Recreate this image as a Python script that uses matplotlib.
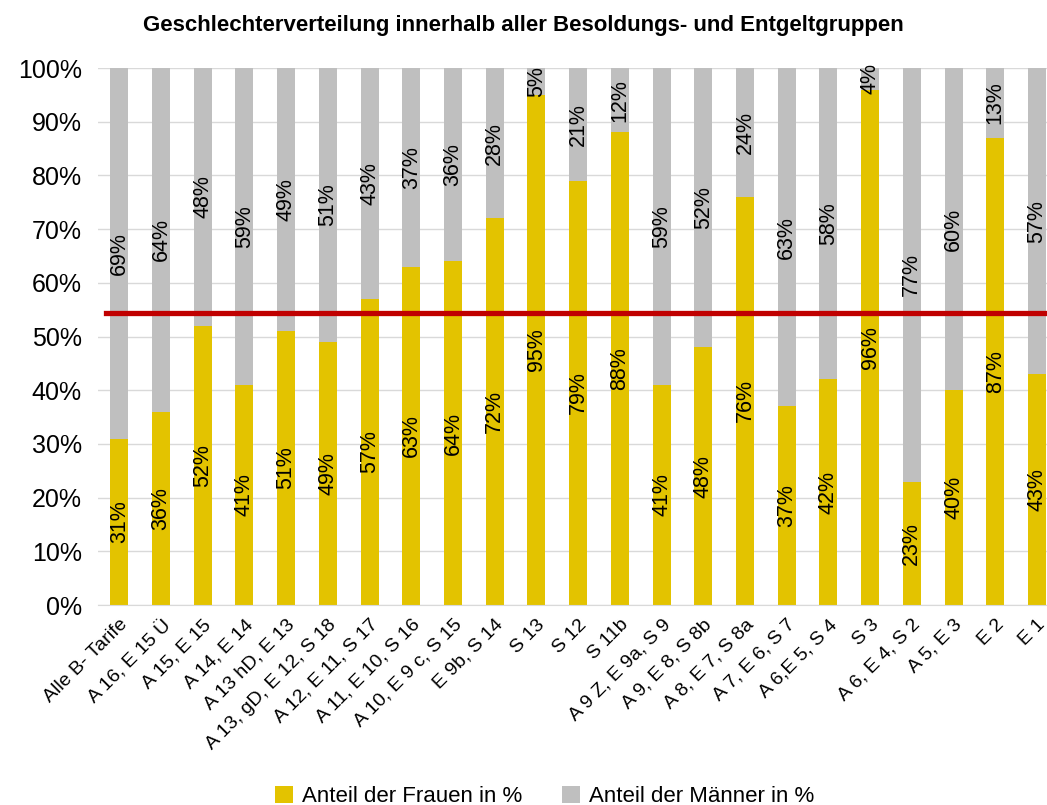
import numpy as np
import matplotlib
matplotlib.use("Agg")
import matplotlib.pyplot as plt

plt.rcParams['font.family'] = ['Liberation Sans', 'DejaVu Sans']

categories = ["Alle B- Tarife", "A 16, E 15 Ü", "A 15, E 15", "A 14, E 14", "A 13 hD, E 13",
              "A 13, gD, E 12, S 18", "A 12, E 11, S 17", "A 11, E 10, S 16", "A 10, E 9 c, S 15",
              "E 9b, S 14", "S 13", "S 12", "S 11b", "A 9 Z, E 9a, S 9", "A 9, E 8, S 8b",
              "A 8, E 7, S 8a", "A 7, E 6, S 7", "A 6,E 5, S 4", "S 3", "A 6, E 4, S 2",
              "A 5, E 3", "E 2", "E 1"]
frauen = [31, 36, 52, 41, 51, 49, 57, 63, 64, 72, 95, 79, 88, 41, 48, 76, 37, 42, 96, 23, 40, 87, 43]
maenner = [69, 64, 48, 59, 49, 51, 43, 37, 36, 28, 5, 21, 12, 59, 52, 24, 63, 58, 4, 77, 60, 13, 57]
durchschnitt = 54.4  # rote Linie

gelb = "#E3C300"
grau = "#BFBFBF"
rot = "#C00000"

fig = plt.figure(figsize=(10.47, 8.05), dpi=100)
ax = fig.add_axes([0.094, 0.2484, 0.906, 0.6671])

x = np.arange(len(categories))
w = 0.43
ax.bar(x, frauen, w, color=gelb, label="Anteil der Frauen in %", zorder=2)
ax.bar(x, maenner, w, bottom=frauen, color=grau, label="Anteil der Männer in %", zorder=2)

# Beschriftungen in den Balken
for i in range(len(x)):
    ax.text(x[i], frauen[i] / 2, f"{frauen[i]}%", rotation=90, ha='center', va='center',
            fontsize=15.5, zorder=4, clip_on=False)
    ax.text(x[i], frauen[i] + maenner[i] / 2, f"{maenner[i]}%", rotation=90, ha='center',
            va='center', fontsize=15.5, zorder=4, clip_on=False)

ax.axhline(durchschnitt, xmin=0.008, xmax=1, color=rot, lw=3.8, zorder=3)

ax.set_xlim(-0.5, 22.24)
ax.set_ylim(0, 100)
ax.set_yticks(np.arange(0, 101, 10))
ax.set_yticklabels([f"{v}%" for v in range(0, 101, 10)], fontsize=18)
ax.set_xticks(x)
ax.set_xticklabels(categories, rotation=45, ha='right', rotation_mode='anchor', fontsize=14)
ax.tick_params(axis='both', length=0)
ax.tick_params(axis='y', pad=12)
ax.tick_params(axis='x', pad=8)
ax.grid(axis='y', color="#D9D9D9", lw=1, zorder=0)
for s in ['top', 'right', 'left']:
    ax.spines[s].set_visible(False)
ax.spines['bottom'].set_color("#D9D9D9")

fig.text(0.5, 0.968, "Geschlechterverteilung innerhalb aller Besoldungs- und Entgeltgruppen",
         ha='center', va='center', fontsize=16, fontweight='bold',
         family=['Liberation Sans Narrow', 'Liberation Sans', 'DejaVu Sans'])

fig.legend(loc='lower center', bbox_to_anchor=(0.52, -0.027), ncol=2, frameon=False,
           fontsize=16, handlelength=0.8, handleheight=0.8, columnspacing=1.8, handletextpad=0.4)

fig.savefig("out.png", dpi=100)
